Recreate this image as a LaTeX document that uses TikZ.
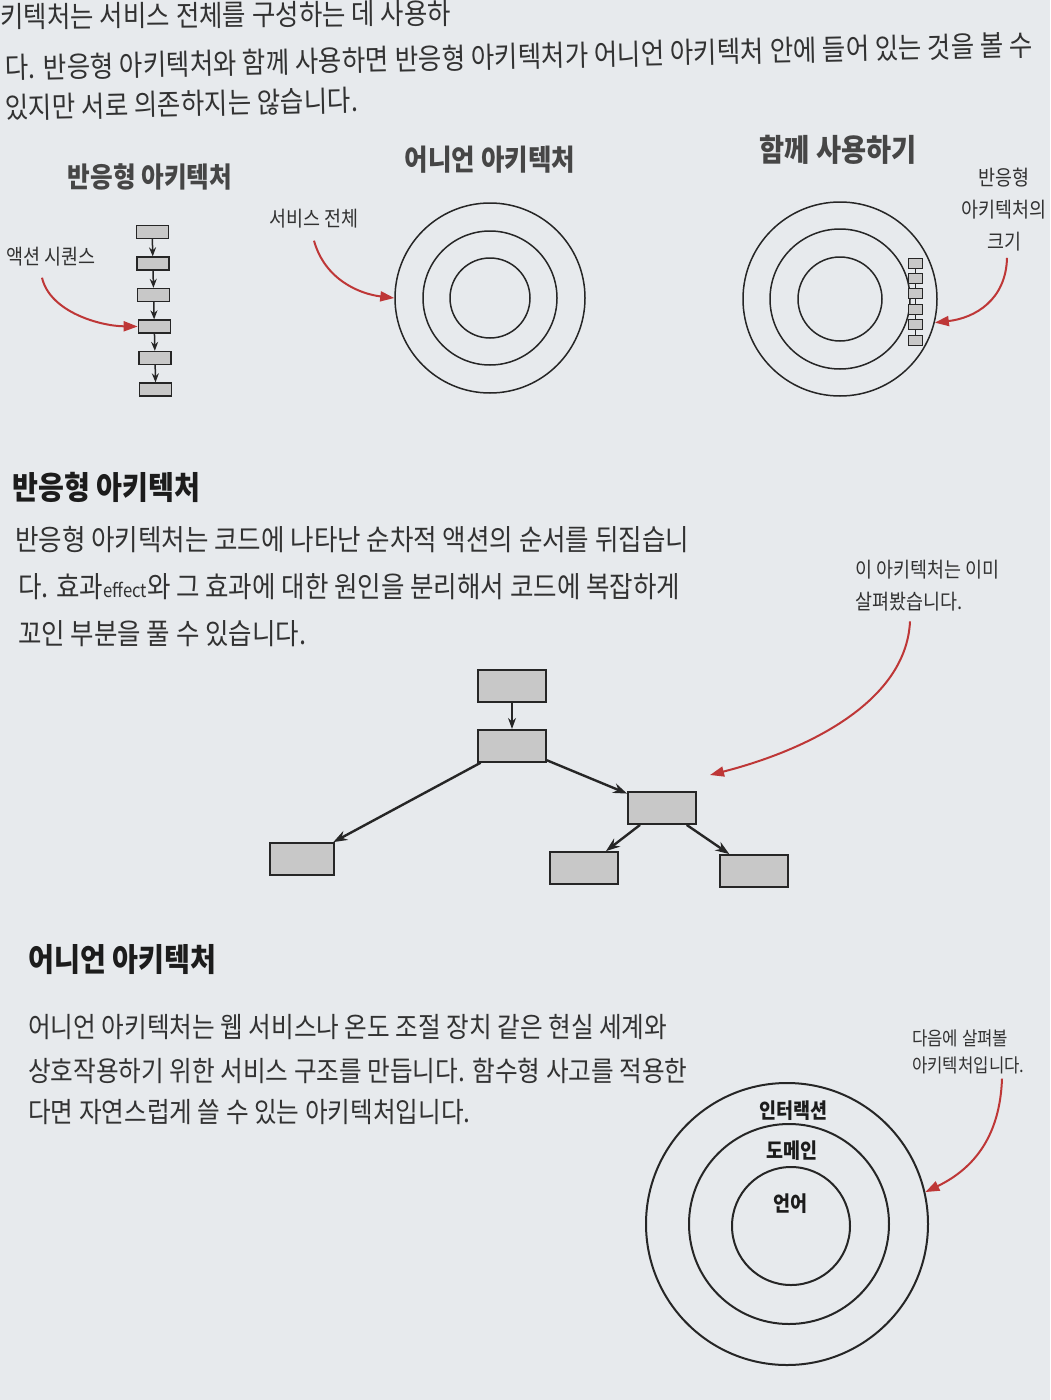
\documentclass[tikz,border=0pt]{standalone}
\usepackage{fontspec}
\setmainfont{Noto Sans CJK KR}[FakeStretch=0.88]
\usetikzlibrary{arrows.meta, positioning}
\definecolor{pagebg}{RGB}{231,234,237}
\definecolor{ink}{RGB}{50,50,50}
\definecolor{headink}{RGB}{28,28,28}
\definecolor{titlegray}{RGB}{70,70,70}
\definecolor{boxfill}{RGB}{200,200,200}
\definecolor{boxline}{RGB}{38,38,38}
\definecolor{darkred}{RGB}{190,55,55}

\begin{document}
\begin{tikzpicture}[x=1pt, y=-1pt, >=Stealth,
    body/.style={anchor=west, inner sep=0, text=ink, font=\fontsize{29}{34}\selectfont},
    head/.style={anchor=west, inner sep=0, text=headink, font=\bfseries\fontsize{32}{38}\selectfont},
    title/.style={inner sep=0, text=titlegray, font=\bfseries\fontsize{28}{32}\selectfont},
    note/.style={inner sep=0, text=ink, align=center, font=\fontsize{21}{32}\selectfont},
    layer/.style={inner sep=0, text=headink, font=\bfseries\fontsize{21}{24}\selectfont},
    actbox/.style={draw=boxline, fill=boxfill, line width=1.8pt, minimum width=68pt, minimum height=32pt, inner sep=0},
    seqbox/.style={draw=boxline, fill=boxfill, line width=1.3pt, minimum width=32pt, minimum height=13pt, inner sep=0},
    tinybox/.style={draw=boxline, fill=boxfill, line width=0.9pt, minimum width=14pt, minimum height=10pt, inner sep=0},
    ring/.style={draw=boxline, circle, line width=1.5pt, inner sep=0},
    flow/.style={draw=boxline, line width=2.4pt, -{Stealth[length=14pt, width=10pt]}},
    redarrow/.style={draw=darkred, line width=2pt, -{Triangle[length=14pt, width=10pt]}}]

    \useasboundingbox (0,0) rectangle (1050,1400);
    \fill[pagebg] (0,0) rectangle (1050,1400);

    % running text at the top of the page:

    \node[body, rotate=0.5] (top1) at (0,17) {키텍처는 서비스 전체를 구성하는 데 사용하};
    \node[body, rotate=1.3] (top2) at (5,68) {다. 반응형 아키텍처와 함께 사용하면 반응형 아키텍처가 어니언 아키텍처 안에 들어 있는 것을 볼 수};
    \node[body, rotate=1.3] (top3) at (5,108) {있지만 서로 의존하지는 않습니다.};

    % three small pictures: titles first

    \node[title] (ttlreact) at (150,177) {반응형 아키텍처};
    \node[title, font=\bfseries\fontsize{29}{34}\selectfont] (ttlonion) at (490,160) {어니언 아키텍처};
    \node[title, font=\bfseries\fontsize{31}{36}\selectfont] (ttlboth) at (838,150) {함께 사용하기};

    % chain of actions
    \foreach \i in {1,...,6}
        \node[seqbox] (seq\i) at ({151.5+0.7*\i}, {200.5+31.5*\i}) {};
    \foreach \i/\j in {1/2,2/3,3/4,4/5,5/6}
        \draw[boxline, line width=1.5pt, -{Stealth[length=9pt, width=7pt]}] (seq\i) -- (seq\j);

    \node[note] (seqnote) at (51,257) {액션 시퀀스};
    \draw[redarrow] ([xshift=-9pt, yshift=-11pt]seqnote.south) .. controls (50,312) and (100,326) .. (seq4.west);

    % onion on its own
    \node[ring, minimum size=190pt] (svcout) at (490,298) {};
    \node[ring, minimum size=134pt] (svcmid) at (490,298) {};
    \node[ring, minimum size=80pt] (svcin) at (490,298) {};

    \node[note] (svcnote) at (314,219) {서비스 전체};
    \draw[redarrow] ([yshift=-12pt]svcnote.south) .. controls (325,280) and (360,294) .. (svcout.west);

    % both together: small chain inside the outer ring
    \node[ring, minimum size=194pt] (mixout) at (840,299) {};
    \node[ring, minimum size=140pt] (mixmid) at (840,299) {};
    \node[ring, minimum size=84pt] (mixin) at (840,299) {};
    \foreach \i in {1,...,6}
        \node[tinybox] (mix\i) at (915, {247.6+15.4*\i}) {};
    \foreach \i/\j in {1/2,2/3,3/4,4/5,5/6}
        \draw[boxline, line width=0.8pt] (mix\i) -- (mix\j);

    \node[note] (mixnote) at (1004,210) {반응형\\아키텍처의\\크기};
    \draw[redarrow] ([xshift=3pt, yshift=-6pt]mixnote.south) .. controls (1006,300) and (975,318) .. (mixout.-14);

    % reactive architecture section

    \node[head] (headreact) at (12,487) {반응형 아키텍처};
    \node[body] (react1) at (15,540) {반응형 아키텍처는 코드에 나타난 순차적 액션의 순서를 뒤집습니};
    \node[body] (react2) at (18,587) {다. 효과{\fontsize{19}{20}\selectfont effect}와 그 효과에 대한 원인을 분리해서 코드에 복잡하게};
    \node[body] (react3) at (18,634) {꼬인 부분을 풀 수 있습니다.};

    \node[actbox] (root) at (512,686) {};
    \node[actbox, below=26pt of root] (act) {};
    \node[actbox] (branch) at (662,808) {};
    \node[actbox, minimum width=64pt] (leafl) at (302,859) {};
    \node[actbox] (leafm) at (584,868) {};
    \node[actbox] (leafr) at (754,871) {};

    \draw[flow, line width=1.5pt, -{Stealth[length=11pt, width=8pt]}] (root) -- (act);
    \draw[flow] (act) -- (leafl);
    \draw[flow] (act) -- (branch);
    \draw[flow] (branch) -- (leafm);
    \draw[flow] (branch) -- (leafr);

    \node[note, align=left, anchor=north west, font=\fontsize{21}{32}\selectfont] (seennote) at (855,560) {이 아키텍처는 이미\\살펴봤습니다.};
    \coordinate (seen) at (710,775);
    \draw[redarrow] ([xshift=55pt, yshift=-10pt]seennote.south west) .. controls (906,705) and (800,752) .. (seen);

    % onion architecture section

    \node[head] (headonion) at (28,960) {어니언 아키텍처};
    \node[body, font=\fontsize{28}{34}\selectfont] (onion1) at (28,1027) {어니언 아키텍처는 웹 서비스나 온도 조절 장치 같은 현실 세계와};
    \node[body, font=\fontsize{28}{34}\selectfont] (onion2) at (28,1071) {상호작용하기 위한 서비스 구조를 만듭니다. 함수형 사고를 적용한};
    \node[body, font=\fontsize{28}{34}\selectfont] (onion3) at (28,1112) {다면 자연스럽게 쓸 수 있는 아키텍처입니다.};

    \node[ring, line width=2pt, minimum size=282pt] (ring1) at (787,1224) {};
    \node[ring, line width=2pt, minimum size=200pt] (ring2) at (789,1224) {};
    \node[ring, line width=2pt, minimum size=118pt] (ring3) at (791,1226) {};
    \node[layer] (interaction) at (793,1111) {인터랙션};
    \node[layer] (domain) at (792,1151) {도메인};
    \node[layer] (language) at (790,1204) {언어};

    \node[note, align=left, anchor=north west, font=\fontsize{19}{27}\selectfont] (nextnote) at (912,1030) {다음에 살펴볼\\아키텍처입니다.};
    \draw[redarrow] ([xshift=90pt, yshift=-4pt]nextnote.south west) .. controls (1000,1135) and (975,1168) .. (ring1.13);
%
\end{tikzpicture}
\end{document}
